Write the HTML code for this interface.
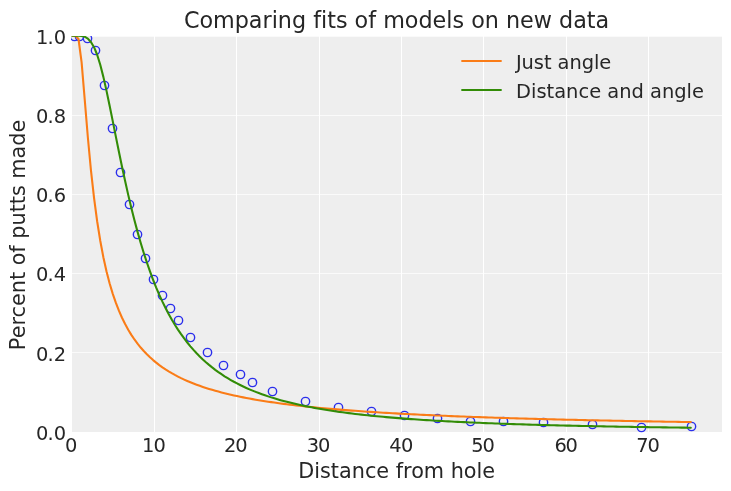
<!DOCTYPE html>
<html lang="en">
<head>
<meta charset="utf-8">
<title>Comparing fits of models on new data</title>
<style>
html,body{margin:0;padding:0;background:#fff;}
body{width:731px;height:491px;overflow:hidden;}
svg{display:block;}
text{font-family:"DejaVu Sans","Liberation Sans",sans-serif;fill:#262626;font-variant-ligatures:none;font-feature-settings:"liga" 0,"clig" 0;}
.ytick{font-size:19.44px;}
.xtick{font-size:19.44px;}
.label{font-size:20.79px;text-anchor:middle;}
.title{font-size:22.28px;text-anchor:middle;}
.legend{font-size:19.44px;}
.gx{fill:#fff;shape-rendering:crispEdges;}
.gy{fill:#fff;fill-opacity:0.7;shape-rendering:crispEdges;}
.curve{fill:none;stroke-width:2.083;stroke-linecap:round;stroke-linejoin:round;}
.mk{fill:#eeeeee;stroke:#2a2eec;stroke-width:1.389;}
</style>
</head>
<body>
<svg width="731" height="491" viewBox="0 0 731 491" role="img" aria-label="Comparing fits of models on new data">
<rect x="0" y="0" width="731" height="491" fill="#ffffff"/>
<defs>
<clipPath id="axclip"><rect x="71" y="36" width="652" height="397"/></clipPath>
<clipPath id="gridclip"><rect x="71" y="36" width="651" height="396"/></clipPath>
</defs>
<g id="axes">
<rect id="patch" x="71" y="36" width="651" height="396" fill="#eeeeee" shape-rendering="crispEdges"/>
<g id="grid" clip-path="url(#gridclip)">
<rect class="gx" x="71" y="36" width="1" height="396"/>
<rect class="gx" x="154" y="36" width="1" height="396"/>
<rect class="gx" x="236" y="36" width="1" height="396"/>
<rect class="gx" x="319" y="36" width="1" height="396"/>
<rect class="gx" x="401" y="36" width="1" height="396"/>
<rect class="gx" x="483" y="36" width="1" height="396"/>
<rect class="gx" x="566" y="36" width="1" height="396"/>
<rect class="gx" x="648" y="36" width="1" height="396"/>
<rect class="gy" x="71" y="432" width="651" height="1"/>
<rect class="gy" x="71" y="352" width="651" height="1"/>
<rect class="gy" x="71" y="273" width="651" height="1"/>
<rect class="gy" x="71" y="194" width="651" height="1"/>
<rect class="gy" x="71" y="115" width="651" height="1"/>
<rect class="gy" x="71" y="36" width="651" height="1"/>
</g>
<g id="data" clip-path="url(#axclip)">
<g id="markers">
<circle class="mk" cx="74.5" cy="36.5" r="4.167"/>
<circle class="mk" cx="79.5" cy="36.5" r="4.167"/>
<circle class="mk" cx="87.5" cy="38.5" r="4.167"/>
<circle class="mk" cx="95.5" cy="50.5" r="4.167"/>
<circle class="mk" cx="104.5" cy="85.5" r="4.167"/>
<circle class="mk" cx="112.5" cy="128.5" r="4.167"/>
<circle class="mk" cx="120.5" cy="172.5" r="4.167"/>
<circle class="mk" cx="129.5" cy="204.5" r="4.167"/>
<circle class="mk" cx="137.5" cy="234.5" r="4.167"/>
<circle class="mk" cx="145.5" cy="258.5" r="4.167"/>
<circle class="mk" cx="153.5" cy="279.5" r="4.167"/>
<circle class="mk" cx="162.5" cy="295.5" r="4.167"/>
<circle class="mk" cx="170.5" cy="308.5" r="4.167"/>
<circle class="mk" cx="178.5" cy="320.5" r="4.167"/>
<circle class="mk" cx="190.5" cy="337.5" r="4.167"/>
<circle class="mk" cx="207.5" cy="352.5" r="4.167"/>
<circle class="mk" cx="223.5" cy="365.5" r="4.167"/>
<circle class="mk" cx="240.5" cy="374.5" r="4.167"/>
<circle class="mk" cx="252.5" cy="382.5" r="4.167"/>
<circle class="mk" cx="272.5" cy="391.5" r="4.167"/>
<circle class="mk" cx="305.5" cy="401.5" r="4.167"/>
<circle class="mk" cx="338.5" cy="407.5" r="4.167"/>
<circle class="mk" cx="371.5" cy="411.5" r="4.167"/>
<circle class="mk" cx="404.5" cy="415.5" r="4.167"/>
<circle class="mk" cx="437.5" cy="418.5" r="4.167"/>
<circle class="mk" cx="470.5" cy="421.5" r="4.167"/>
<circle class="mk" cx="503.5" cy="421.5" r="4.167"/>
<circle class="mk" cx="543.5" cy="422.5" r="4.167"/>
<circle class="mk" cx="592.5" cy="424.5" r="4.167"/>
<circle class="mk" cx="641.5" cy="427.5" r="4.167"/>
<circle class="mk" cx="691.5" cy="426.5" r="4.167"/>
</g>
<polyline class="curve" stroke="#fa7c17" points="72.28,35.67 75.39,35.67 78.5,39.01 81.61,62.32 84.71,99.41 87.82,136.98 90.93,170.07 94.04,197.97 97.15,221.26 100.26,240.75 103.36,257.19 106.47,271.18 109.58,283.19 112.69,293.59 115.8,302.68 118.91,310.67 122.01,317.76 125.12,324.07 128.23,329.74 131.34,334.85 134.45,339.48 137.55,343.69 140.66,347.54 143.77,351.06 146.88,354.31 149.99,357.31 153.1,360.09 156.2,362.66 159.31,365.06 162.42,367.3 165.53,369.4 168.64,371.36 171.74,373.2 174.85,374.94 177.96,376.57 181.07,378.12 184.18,379.58 187.29,380.96 190.39,382.27 193.5,383.52 196.61,384.7 199.72,385.83 202.83,386.9 205.93,387.93 209.04,388.91 212.15,389.85 215.26,390.74 218.37,391.6 221.48,392.42 224.58,393.21 227.69,393.97 230.8,394.7 233.91,395.41 237.02,396.08 240.13,396.73 243.23,397.36 246.34,397.97 249.45,398.55 252.56,399.12 255.67,399.66 258.77,400.19 261.88,400.7 264.99,401.19 268.1,401.67 271.21,402.14 274.32,402.59 277.42,403.02 280.53,403.45 283.64,403.86 286.75,404.26 289.86,404.64 292.96,405.02 296.07,405.39 299.18,405.74 302.29,406.09 305.4,406.43 308.51,406.76 311.61,407.08 314.72,407.39 317.83,407.7 320.94,407.99 324.05,408.28 327.15,408.57 330.26,408.84 333.37,409.11 336.48,409.37 339.59,409.63 342.7,409.88 345.8,410.13 348.91,410.37 352.02,410.6 355.13,410.83 358.24,411.06 361.35,411.27 364.45,411.49 367.56,411.7 370.67,411.91 373.78,412.11 376.89,412.31 379.99,412.5 383.1,412.69 386.21,412.88 389.32,413.06 392.43,413.24 395.54,413.41 398.64,413.59 401.75,413.76 404.86,413.92 407.97,414.08 411.08,414.24 414.18,414.4 417.29,414.56 420.4,414.71 423.51,414.86 426.62,415 429.73,415.15 432.83,415.29 435.94,415.43 439.05,415.56 442.16,415.7 445.27,415.83 448.37,415.96 451.48,416.09 454.59,416.21 457.7,416.34 460.81,416.46 463.92,416.58 467.02,416.69 470.13,416.81 473.24,416.92 476.35,417.04 479.46,417.15 482.56,417.26 485.67,417.36 488.78,417.47 491.89,417.57 495,417.68 498.11,417.78 501.21,417.88 504.32,417.98 507.43,418.07 510.54,418.17 513.65,418.26 516.76,418.36 519.86,418.45 522.97,418.54 526.08,418.63 529.19,418.71 532.3,418.8 535.4,418.89 538.51,418.97 541.62,419.05 544.73,419.14 547.84,419.22 550.95,419.3 554.05,419.38 557.16,419.45 560.27,419.53 563.38,419.61 566.49,419.68 569.59,419.76 572.7,419.83 575.81,419.9 578.92,419.97 582.03,420.04 585.14,420.11 588.24,420.18 591.35,420.25 594.46,420.32 597.57,420.39 600.68,420.45 603.78,420.52 606.89,420.58 610,420.64 613.11,420.71 616.22,420.77 619.33,420.83 622.43,420.89 625.54,420.95 628.65,421.01 631.76,421.07 634.87,421.13 637.98,421.18 641.08,421.24 644.19,421.3 647.3,421.35 650.41,421.41 653.52,421.46 656.62,421.51 659.73,421.57 662.84,421.62 665.95,421.67 669.06,421.72 672.17,421.78 675.27,421.83 678.38,421.88 681.49,421.92 684.6,421.97 687.71,422.02 690.81,422.07"/>
<polyline class="curve" stroke="#328c06" points="72.28,35.67 75.39,35.67 78.5,35.69 81.61,35.89 84.71,36.71 87.82,38.61 90.93,41.95 94.04,47.19 97.15,54.76 100.26,64.76 103.36,76.88 106.47,90.64 109.58,105.46 112.69,120.84 115.8,136.36 118.91,151.72 122.01,166.68 125.12,181.09 128.23,194.86 131.34,207.92 134.45,220.25 137.55,231.86 140.66,242.75 143.77,252.96 146.88,262.5 149.99,271.43 153.1,279.77 156.2,287.56 159.31,294.83 162.42,301.63 165.53,307.99 168.64,313.94 171.74,319.5 174.85,324.71 177.96,329.59 181.07,334.17 184.18,338.47 187.29,342.51 190.39,346.31 193.5,349.88 196.61,353.24 199.72,356.42 202.83,359.41 205.93,362.23 209.04,364.9 212.15,367.43 215.26,369.82 218.37,372.08 221.48,374.23 224.58,376.26 227.69,378.19 230.8,380.03 233.91,381.78 237.02,383.44 240.13,385.02 243.23,386.53 246.34,387.97 249.45,389.34 252.56,390.65 255.67,391.9 258.77,393.09 261.88,394.24 264.99,395.33 268.1,396.38 271.21,397.38 274.32,398.35 277.42,399.27 280.53,400.16 283.64,401.01 286.75,401.82 289.86,402.61 292.96,403.36 296.07,404.09 299.18,404.79 302.29,405.46 305.4,406.11 308.51,406.74 311.61,407.34 314.72,407.92 317.83,408.48 320.94,409.02 324.05,409.55 327.15,410.05 330.26,410.54 333.37,411.01 336.48,411.47 339.59,411.91 342.7,412.34 345.8,412.75 348.91,413.15 352.02,413.54 355.13,413.92 358.24,414.28 361.35,414.63 364.45,414.98 367.56,415.31 370.67,415.63 373.78,415.95 376.89,416.25 379.99,416.55 383.1,416.83 386.21,417.11 389.32,417.38 392.43,417.65 395.54,417.9 398.64,418.15 401.75,418.4 404.86,418.63 407.97,418.86 411.08,419.09 414.18,419.31 417.29,419.52 420.4,419.73 423.51,419.93 426.62,420.12 429.73,420.32 432.83,420.5 435.94,420.69 439.05,420.86 442.16,421.04 445.27,421.21 448.37,421.37 451.48,421.54 454.59,421.69 457.7,421.85 460.81,422 463.92,422.15 467.02,422.29 470.13,422.43 473.24,422.57 476.35,422.7 479.46,422.83 482.56,422.96 485.67,423.09 488.78,423.21 491.89,423.33 495,423.45 498.11,423.56 501.21,423.68 504.32,423.79 507.43,423.9 510.54,424 513.65,424.11 516.76,424.21 519.86,424.31 522.97,424.41 526.08,424.5 529.19,424.59 532.3,424.69 535.4,424.78 538.51,424.87 541.62,424.95 544.73,425.04 547.84,425.12 550.95,425.2 554.05,425.28 557.16,425.36 560.27,425.44 563.38,425.52 566.49,425.59 569.59,425.66 572.7,425.73 575.81,425.81 578.92,425.87 582.03,425.94 585.14,426.01 588.24,426.08 591.35,426.14 594.46,426.2 597.57,426.27 600.68,426.33 603.78,426.39 606.89,426.45 610,426.5 613.11,426.56 616.22,426.62 619.33,426.67 622.43,426.73 625.54,426.78 628.65,426.83 631.76,426.88 634.87,426.94 637.98,426.99 641.08,427.03 644.19,427.08 647.3,427.13 650.41,427.18 653.52,427.22 656.62,427.27 659.73,427.31 662.84,427.36 665.95,427.4 669.06,427.44 672.17,427.49 675.27,427.53 678.38,427.57 681.49,427.61 684.6,427.65 687.71,427.69 690.81,427.73"/>
</g>
</g>
<g id="xticks">
<text class="xtick" x="65.12" y="452">0</text>
<text class="xtick" x="141.93 153.55" y="452">10</text>
<text class="xtick" x="224.06 235.33" y="452">20</text>
<text class="xtick" x="306.84 318.11" y="452">30</text>
<text class="xtick" x="389.22 400.99" y="452">40</text>
<text class="xtick" x="471.2 482.47" y="452">50</text>
<text class="xtick" x="554.48 565.45" y="452">60</text>
<text class="xtick" x="636.26 647.53" y="452">70</text>
</g>
<g id="yticks">
<text class="ytick" x="36 47.4 53.7" y="440">0.0</text>
<text class="ytick" x="36 47.4 53.7" y="361">0.2</text>
<text class="ytick" x="36 47.4 53.7" y="281">0.4</text>
<text class="ytick" x="36 47.4 53.7" y="202">0.6</text>
<text class="ytick" x="36 47.4 53.7" y="123">0.8</text>
<text class="ytick" x="36 47.4 53.7" y="44">1.0</text>
</g>
<text class="label" x="396.7" y="478">Distance from hole</text>
<text class="label" style="font-size:20.79px" transform="translate(24.55,234.92) rotate(-90)">Percent of putts made</text>
<text class="title" x="396.55" y="28">Comparing fits of models on new data</text>
<g id="legend">
<line class="curve" stroke="#fa7c17" x1="462.1" y1="61" x2="500.9" y2="61"/>
<text class="legend" x="515.9" y="69" style="letter-spacing:-0.06px">Just angle</text>
<line class="curve" stroke="#328c06" x1="462.1" y1="90" x2="500.9" y2="90"/>
<text class="legend" x="516.1" y="98">Distance and angle</text>
</g>
</svg>
</body>
</html>
